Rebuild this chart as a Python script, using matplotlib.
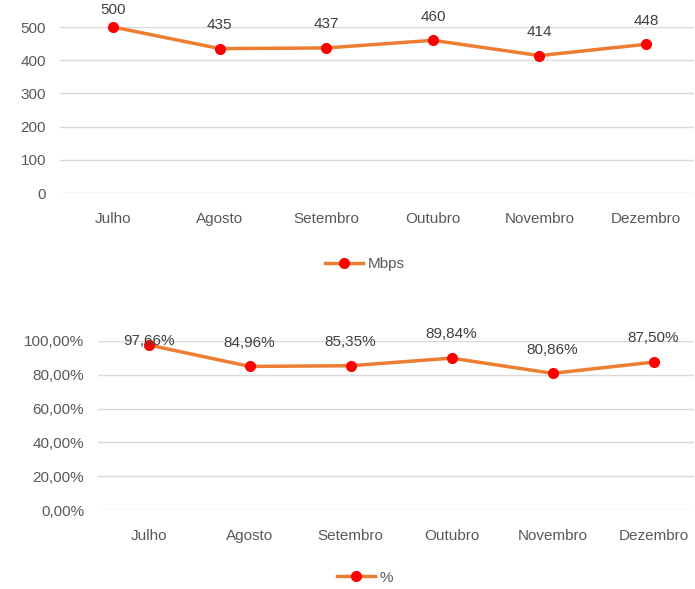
import matplotlib.pyplot as plt
from matplotlib.ticker import FuncFormatter

plt.rcParams['font.family'] = ['Liberation Sans', 'DejaVu Sans']

meses = ['Julho', 'Agosto', 'Setembro', 'Outubro', 'Novembro', 'Dezembro']
mbps = [500, 435, 437, 460, 414, 448]
pct = [97.66, 84.96, 85.35, 89.84, 80.86, 87.50]

laranja = '#ED7D31'
vermelho = '#FF0000'
cinza = '#595959'
texto = '#404040'
grade = '#D9D9D9'

fig = plt.figure(figsize=(6.95, 5.89), dpi=100)
ax1 = fig.add_axes([60 / 695, 0.6723, 634 / 695, 0.2818])
ax2 = fig.add_axes([98 / 695, 0.1341, 596 / 695, 0.287])


def estilo(ax):
    for s in ax.spines.values():
        s.set_visible(False)
    ax.yaxis.grid(True, color=grade, linewidth=1)
    ax.set_axisbelow(True)
    ax.tick_params(length=0, colors=cinza, labelsize=11)
    ax.tick_params(axis='x', pad=14)
    ax.tick_params(axis='y', pad=10)


x = range(len(meses))

# grafico de Mbps
ax1.plot(x, mbps, color=laranja, linewidth=2.5, marker='o', markersize=7,
         markerfacecolor=vermelho, markeredgecolor=vermelho, label='Mbps', clip_on=False)
for i, v in enumerate(mbps):
    # o primeiro rotulo fica colado no topo, mais perto do ponto
    dy, va = (12, 'center') if i == 0 else (12, 'bottom')
    ax1.annotate(str(v), (i, v), xytext=(0, dy), textcoords='offset points',
                 ha='center', va=va, fontsize=11, color=texto)
ax1.set_ylim(0, 500)
ax1.set_yticks(range(0, 501, 100))
ax1.set_xlim(-0.5, 5.45)
ax1.set_xticks(list(x))
ax1.set_xticklabels(meses)
estilo(ax1)
ax1.legend(loc='center', bbox_to_anchor=(305 / 634, -0.43), frameon=False,
           fontsize=11, labelcolor=cinza, handlelength=2.5, handletextpad=0.3)

# grafico de percentual
ax2.plot(x, pct, color=laranja, linewidth=2.5, marker='o', markersize=7,
         markerfacecolor=vermelho, markeredgecolor=vermelho, label='%', clip_on=False)
for i, v in enumerate(pct):
    dy, va = (3, 'center') if i == 0 else (12, 'bottom')
    ax2.annotate(f'{v:.2f}%'.replace('.', ','), (i, v), xytext=(0, dy),
                 textcoords='offset points', ha='center', va=va,
                 fontsize=11, color=texto)
ax2.set_ylim(0, 100)
ax2.set_yticks(range(0, 101, 20))
ax2.yaxis.set_major_formatter(FuncFormatter(lambda v, p: f'{v:.2f}%'.replace('.', ',')))
ax2.set_xlim(-0.5, 5.4)
ax2.set_xticks(list(x))
ax2.set_xticklabels(meses)
estilo(ax2)
ax2.legend(loc='center', bbox_to_anchor=(267 / 596, -0.40), frameon=False,
           fontsize=11, labelcolor=cinza, handlelength=2.5, handletextpad=0.3)

fig.savefig('out.png', dpi=100, facecolor='white')
